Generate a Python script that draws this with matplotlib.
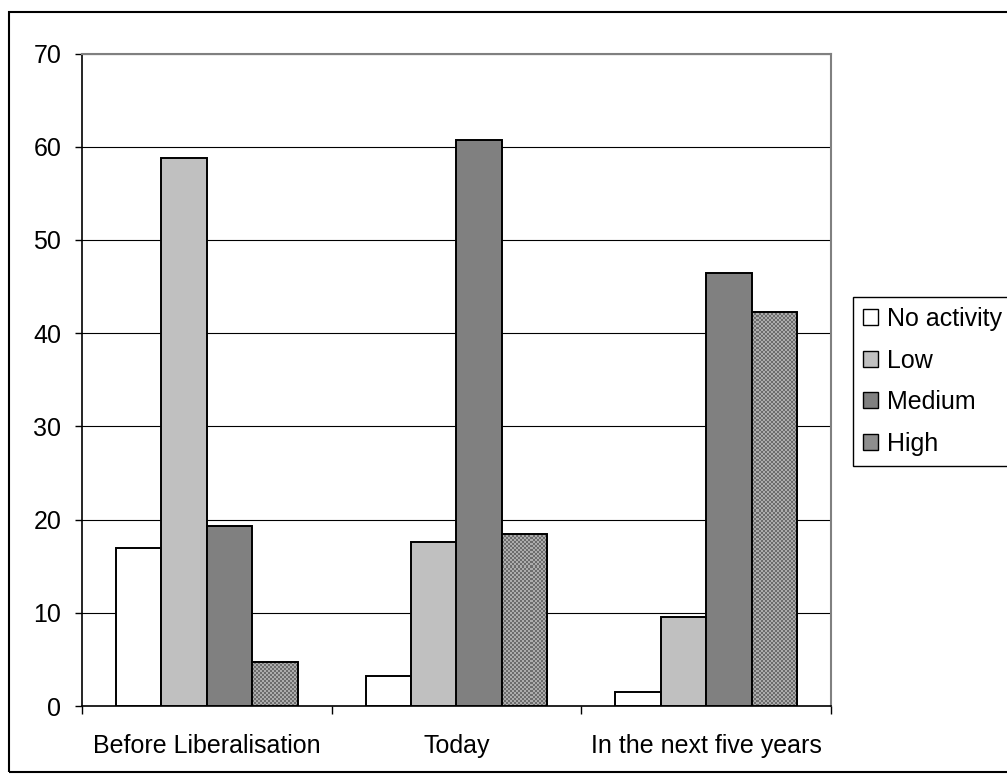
import numpy as np
import matplotlib
matplotlib.use("Agg")
import matplotlib.pyplot as plt
from matplotlib.patches import Patch, Rectangle
from matplotlib.colors import ListedColormap

# Survey shares (%) by period and activity level
categories = ["Before Liberalisation", "Today", "In the next five years"]
series_names = ["No activity", "Low", "Medium", "High"]
no_activity = [17.0, 3.2, 1.5]
low = [58.8, 17.6, 9.6]
medium = [19.3, 60.7, 46.4]
high = [4.7, 18.4, 42.3]
y_ticks = [0, 10, 20, 30, 40, 50, 60, 70]

plt.rcParams['font.family'] = ['Liberation Sans', 'DejaVu Sans']

W, H = 1007, 782
fig = plt.figure(figsize=(W / 100, H / 100), dpi=100)
ax_l, ax_r, ax_t, ax_b = 82, 831, 53.5, 706
ax = fig.add_axes([ax_l / W, 1 - ax_b / H, (ax_r - ax_l) / W, (ax_b - ax_t) / H])

x = np.arange(len(categories))
bw = 1 / 5.5
offsets = np.array([-1.5, -0.5, 0.5, 1.5]) * bw
colors = ["white", "#c0c0c0", "#808080", "#8e8e8e"]
series = [no_activity, low, medium, high]

for i, vals in enumerate(series[:3]):
    ax.bar(x + offsets[i], vals, width=bw, color=colors[i], edgecolor="black",
           linewidth=1.4, zorder=3)

# High: fine checker fill clipped to each bar, with outline on top
px_w = int(round(ax_r - ax_l))
px_h = int(round(ax_b - ax_t))
ii, jj = np.mgrid[0:px_h, 0:px_w]
checker = ((ii // 2) + (jj // 2)) % 2
cmap = ListedColormap(["#6c6c6c", "#acacac"])
fills = ax.bar(x + offsets[3], high, width=bw, color="#8e8e8e", linewidth=0, zorder=3)
for patch in fills:
    im = ax.imshow(checker, extent=(0, 1, 0, 1), transform=ax.transAxes,
                   aspect="auto", interpolation="nearest", cmap=cmap, zorder=3.2)
    im.set_clip_path(patch)
ax.bar(x + offsets[3], high, width=bw, facecolor="none", edgecolor="black",
       linewidth=1.4, zorder=3.5)

ax.set_xlim(-0.5, 2.5)
ax.set_ylim(0, 70)
ax.set_yticks(y_ticks)
ax.tick_params(axis="y", direction="out", length=5, width=1, pad=10, labelsize=18)
ax.set_xticks(x)
ax.set_xticklabels(categories)
ax.tick_params(axis="x", which="major", length=0, pad=20, labelsize=18)
ax.set_xticks([-0.5, 0.5, 1.5, 2.5], minor=True)
ax.tick_params(axis="x", which="minor", direction="out", length=6, width=1)

ax.yaxis.grid(True, color="black", linewidth=0.8)
ax.set_axisbelow(True)
for side in ("top", "right"):
    ax.spines[side].set_color("#808080")
    ax.spines[side].set_linewidth(1.5)
for side in ("left", "bottom"):
    ax.spines[side].set_color("black")
    ax.spines[side].set_linewidth(1.2)

# Outer chart border
fig.add_artist(Rectangle((9 / W, 1 - 772 / H), (1100 - 9) / W, (772 - 12) / H,
                         transform=fig.transFigure, fill=False,
                         edgecolor="black", linewidth=1.5))

handles = [Patch(facecolor=c, edgecolor="black", linewidth=1.0) for c in colors]
leg = fig.legend(handles, series_names, loc="upper left",
                 bbox_to_anchor=(853 / W, 1 - 297 / H), frameon=True,
                 fancybox=False, edgecolor="black", framealpha=1, fontsize=18,
                 handlelength=0.6, handleheight=0.6, handletextpad=0.36,
                 labelspacing=0.7, borderpad=0.4, borderaxespad=0)
leg.get_frame().set_linewidth(1.0)

fig.savefig("out.png", dpi=100)
